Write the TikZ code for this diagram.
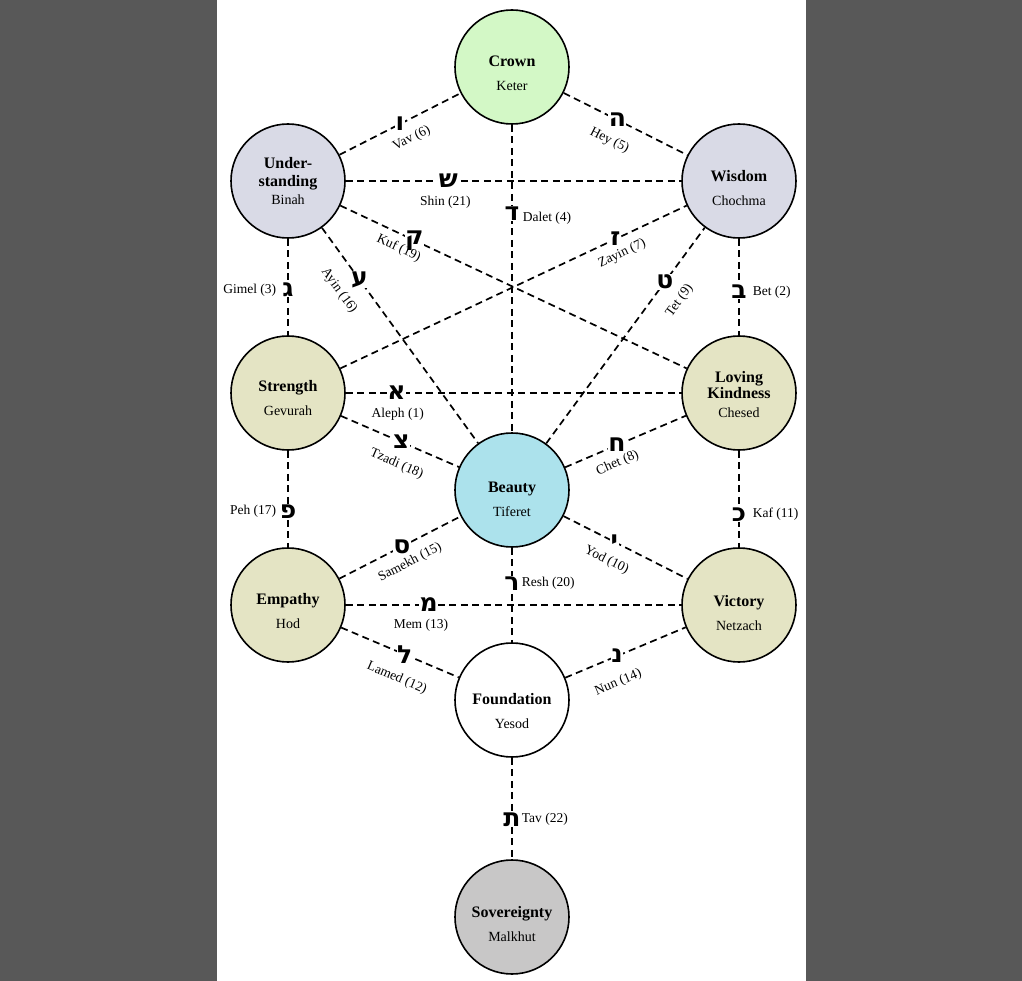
\documentclass[tikz,border=0pt]{standalone}
\usepackage{fontspec}
\setmainfont{Liberation Serif}
\newfontfamily\hebfont[Script=Hebrew]{DejaVu Sans}
\usepackage{tikz}

\definecolor{sidegray}{HTML}{585858}
\definecolor{ketercol}{HTML}{D3F8C6}
\definecolor{supercol}{HTML}{D9DAE6}
\definecolor{midcol}{HTML}{E4E4C4}
\definecolor{tifcol}{HTML}{ACE2EC}
\definecolor{malkcol}{HTML}{C8C7C7}

\newcommand{\ttl}[1]{{\fontsize{16}{18}\selectfont\bfseries #1}}
\newcommand{\sef}[3][25pt]{\rule{0pt}{#1}\ttl{#2}\\[9pt]#3}

\begin{document}
\begin{tikzpicture}[x=1pt,y=-1pt,sefira/.style={circle,draw,line width=1.6pt,minimum size=114pt,inner sep=0pt,align=center,font=\fontsize{14}{15}\selectfont},chan/.style={line width=1.7pt,dash pattern=on 7pt off 4.5pt},heb/.style={fill=white,inner sep=0.5pt,font=\hebfont\bfseries\fontsize{25}{25}\selectfont},tag/.style={inner sep=1pt,font=\fontsize{13.5}{15}\selectfont}]
\fill[sidegray] (0,0) rectangle (217,981);
\fill[white] (217,0) rectangle (806,981);
\fill[sidegray] (806,0) rectangle (1022,981);
\useasboundingbox (0,0) rectangle (1022,981);

% the ten sefirot
\node[sefira,fill=ketercol] (keter) at (512,67) {\sef[23pt]{Crown}{Keter}};
\node[sefira,fill=supercol] (binah) at (288,181) {\ttl{Under-}\\[3pt]\ttl{standing}\\[3pt]Binah};
\node[sefira,fill=supercol] (chochma) at (739,181) {\sef{Wisdom}{Chochma}};
\node[sefira,fill=midcol] (gevurah) at (288,393) {\sef[21pt]{Strength}{Gevurah}};
\node[sefira,fill=midcol] (chesed) at (739,393) {\rule{0pt}{14pt}\ttl{Loving}\\[1pt]\ttl{Kindness}\\[4pt]Chesed};
\node[sefira,fill=tifcol] (tiferet) at (512,490) {\sef[29pt]{Beauty}{Tiferet}};
\node[sefira,fill=midcol] (hod) at (288,605) {\sef[23pt]{Empathy}{Hod}};
\node[sefira,fill=midcol] (netzach) at (739,605) {\sef[27pt]{Victory}{Netzach}};
\node[sefira,fill=white] (yesod) at (512,700) {\sef[33pt]{Foundation}{Yesod}};
\node[sefira,fill=malkcol] (malkhut) at (512,917) {\sef{Sovereignty}{Malkhut}};

% the 22 paths
\draw[chan] (binah) -- node[heb,pos=0.5]{ו} node[tag,sloped,below=10pt,pos=0.53]{Vav (6)} (keter);
\draw[chan] (keter) -- node[heb,pos=0.434]{ה} node[tag,sloped,below=14pt,pos=0.45]{Hey (5)} (chochma);
\draw[chan] (keter) -- node[heb,pos=0.288]{ד} node[tag,right=9pt,pos=0.304]{Dalet (4)} (tiferet);
\draw[chan] (binah) -- node[heb,pos=0.306]{ש} node[tag,below=13pt,pos=0.297]{Shin (21)} (chochma);
\draw[chan] (binah) -- node[heb,pos=0.214]{ק} node[tag,sloped,below=6pt,pos=0.186]{Kuf (19)} (chesed);
\draw[chan] (gevurah) -- node[heb,pos=0.794]{ז} node[tag,sloped,below=8pt,pos=0.794]{Zayin (7)} (chochma);
\draw[chan] (binah) -- node[heb,pos=0.53]{ג} node[tag,left=10pt,pos=0.53]{Gimel (3)} (gevurah);
\draw[chan] (binah) -- node[heb,pos=0.24]{ע} node[tag,sloped,below=15pt,pos=0.23]{Ayin (16)} (tiferet);
\draw[chan] (tiferet) -- node[heb,pos=0.748]{ט} node[tag,sloped,below=15pt,pos=0.725]{Tet (9)} (chochma);
\draw[chan] (chochma) -- node[heb,pos=0.55]{ב} node[tag,right=12pt,pos=0.55]{Bet (2)} (chesed);
\draw[chan] (gevurah) -- node[heb,pos=0.151]{א} node[tag,below=13pt,pos=0.155]{Aleph (1)} (chesed);
\draw[chan] (gevurah) -- node[heb,pos=0.51]{צ} node[tag,sloped,below=14pt,pos=0.545]{Tzadi (18)} (tiferet);
\draw[chan] (tiferet) -- node[heb,pos=0.43]{ח} node[tag,sloped,below=9pt,pos=0.38]{Chet (8)} (chesed);
\draw[chan] (gevurah) -- node[heb,pos=0.63]{פ} node[tag,left=10pt,pos=0.63]{Peh (17)} (hod);
\draw[chan] (chesed) -- node[heb,pos=0.66]{כ} node[tag,right=12pt,pos=0.66]{Kaf (11)} (netzach);
\draw[chan] (hod) -- node[heb,pos=0.516]{ס} node[tag,sloped,below=10pt,pos=0.516]{Samekh (15)} (tiferet);
\draw[chan] (tiferet) -- node[heb,pos=0.41]{י} node[tag,sloped,below=12pt,pos=0.42]{Yod (10)} (netzach);
\draw[chan] (tiferet) -- node[heb,pos=0.375]{ר} node[tag,right=8pt,pos=0.375]{Resh (20)} (yesod);
\draw[chan] (hod) -- node[heb,pos=0.247]{מ} node[tag,below=12pt,pos=0.224]{Mem (13)} (netzach);
\draw[chan] (hod) -- node[heb,pos=0.54]{ל} node[tag,sloped,below=17pt,pos=0.556]{Lamed (12)} (yesod);
\draw[chan] (yesod) -- node[heb,pos=0.43]{נ} node[tag,sloped,below=17pt,pos=0.36]{Nun (14)} (netzach);
\draw[chan] (yesod) -- node[heb,pos=0.61]{ת} node[tag,right=8pt,pos=0.61]{Tav (22)} (malkhut);
\end{tikzpicture}
\end{document}
